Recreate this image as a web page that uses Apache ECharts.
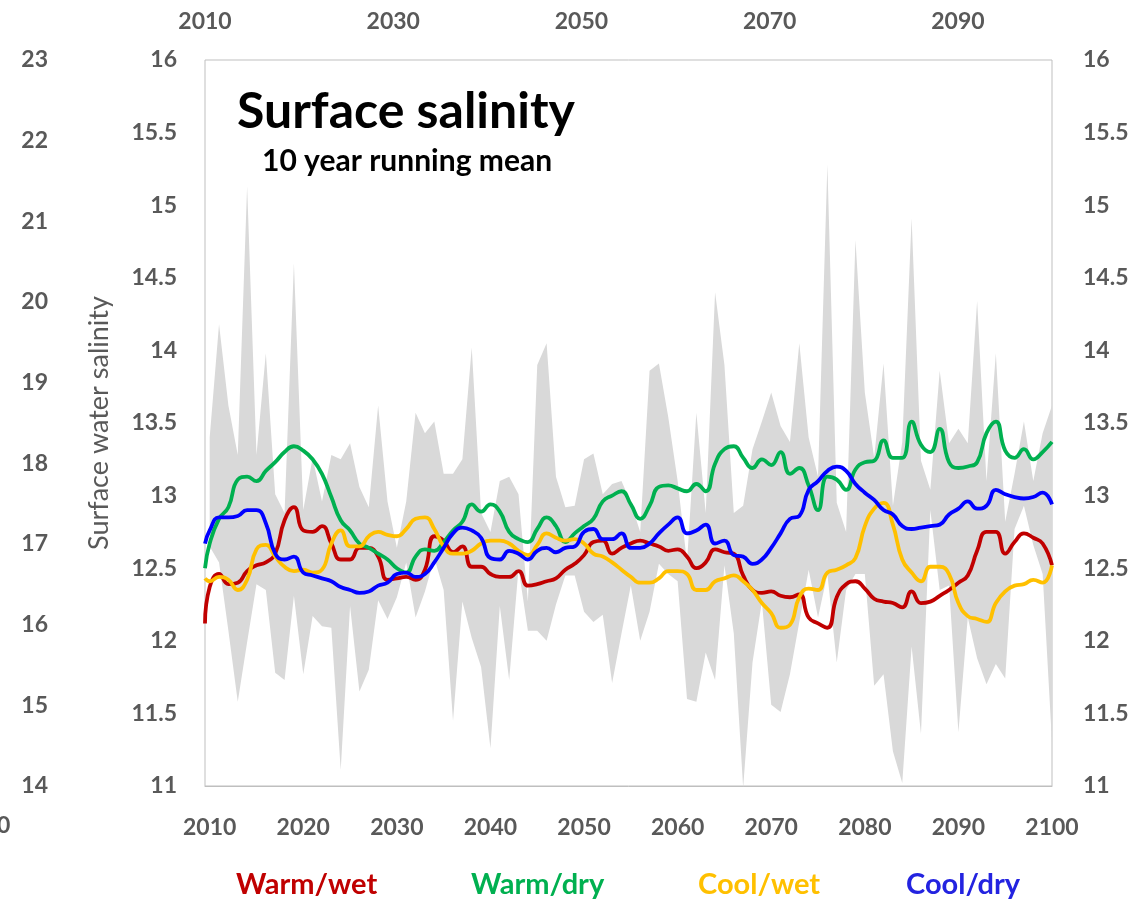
<!DOCTYPE html>
<html>
<head>
<meta charset="utf-8">
<script src="https://cdn.jsdelivr.net/npm/echarts@6/dist/echarts.min.js"></script>
<style>
html,body{margin:0;padding:0;background:#fff;}
#chart{width:1148px;height:902px;}
</style>
</head>
<body>
<div id="chart"></div>
<script>
// ---- data ----
const bandYears = [2010,2011,2012,2013,2014,2015,2016,2017,2018,2019,2020,2021,2022,2023,2024,2025,2026,2027,2028,2029,2030,2031,2032,2033,2034,2035,2036,2037,2038,2039,2040,2041,2042,2043,2044,2045,2046,2047,2048,2049,2050,2051,2052,2053,2054,2055,2056,2057,2058,2059,2060,2061,2062,2063,2064,2065,2066,2067,2068,2069,2070,2071,2072,2073,2074,2075,2076,2077,2078,2079,2080,2081,2082,2083,2084,2085,2086,2087,2088,2089,2090,2091,2092,2093,2094,2095,2096,2097,2098,2099,2100];
const bandMax = [13.40,14.18,13.62,13.28,15.13,13.28,13.98,13.01,12.88,14.60,12.90,13.26,12.96,13.28,13.25,13.36,13.06,12.92,13.62,12.96,12.64,12.96,13.57,13.43,13.51,13.15,13.15,13.25,14.02,12.88,12.75,13.10,13.13,13.01,12.27,13.90,14.05,13.13,12.92,12.93,13.25,13.29,13.01,13.08,13.10,12.95,12.75,13.86,13.91,13.54,13.10,12.54,13.57,12.88,14.40,13.90,12.88,12.93,13.32,13.51,13.71,13.48,13.37,14.05,13.40,13.13,15.28,12.95,12.75,14.76,13.71,13.26,13.91,12.93,13.37,14.91,13.24,13.04,13.86,13.36,13.46,13.36,14.34,13.10,13.98,12.82,13.15,13.51,13.10,13.43,13.62];
const bandMin = [12.65,12.54,12.07,11.58,11.99,12.39,12.35,11.78,11.73,12.31,11.77,12.17,12.10,12.09,11.11,12.24,11.65,11.80,12.28,12.15,12.30,12.54,12.16,12.34,12.57,12.35,11.45,12.27,12.02,11.82,11.26,12.24,11.73,12.50,12.07,12.07,12.00,12.25,12.45,12.45,12.20,12.13,12.18,11.71,12.05,12.38,12.00,12.20,12.53,12.46,12.41,11.60,11.58,11.92,11.73,12.52,12.05,10.99,11.85,12.27,11.56,11.51,11.77,12.13,12.49,12.16,12.46,11.85,12.35,12.46,12.46,11.69,11.77,11.24,11.02,11.96,11.36,12.90,12.35,12.38,11.37,12.16,11.88,11.70,11.84,11.74,12.77,12.93,12.66,12.46,11.30];

const lineYears = [2009.5,2010,2011,2012,2013,2014,2015,2016,2017,2018,2019,2020,2021,2022,2023,2024,2025,2026,2027,2028,2029,2030,2031,2032,2033,2034,2035,2036,2037,2038,2039,2040,2041,2042,2043,2044,2045,2046,2047,2048,2049,2050,2051,2052,2053,2054,2055,2056,2057,2058,2059,2060,2061,2062,2063,2064,2065,2066,2067,2068,2069,2070,2071,2072,2073,2074,2075,2076,2077,2078,2079,2080,2081,2082,2083,2084,2085,2086,2087,2088,2089,2090,2091,2092,2093,2094,2095,2096,2097,2098,2099,2100];
const warmWet = [12.12,12.37,12.46,12.39,12.40,12.48,12.52,12.54,12.60,12.83,12.92,12.76,12.75,12.79,12.67,12.56,12.56,12.64,12.64,12.58,12.42,12.43,12.44,12.42,12.49,12.72,12.69,12.61,12.65,12.51,12.51,12.46,12.44,12.44,12.48,12.38,12.39,12.41,12.43,12.49,12.53,12.59,12.68,12.69,12.60,12.64,12.67,12.69,12.67,12.65,12.62,12.63,12.58,12.50,12.54,12.63,12.61,12.60,12.45,12.35,12.33,12.34,12.31,12.30,12.32,12.16,12.12,12.09,12.30,12.39,12.41,12.36,12.29,12.27,12.26,12.23,12.34,12.26,12.27,12.31,12.35,12.40,12.45,12.62,12.75,12.75,12.60,12.68,12.74,12.71,12.67,12.52];
const warmDry = [12.50,12.67,12.84,12.92,13.11,13.13,13.10,13.17,13.23,13.30,13.34,13.31,13.25,13.15,12.99,12.83,12.76,12.67,12.64,12.60,12.56,12.50,12.47,12.58,12.63,12.62,12.68,12.76,12.82,12.94,12.89,12.94,12.89,12.75,12.70,12.68,12.77,12.85,12.79,12.68,12.74,12.79,12.84,12.96,13.00,13.03,12.94,12.84,12.93,13.06,13.07,13.05,13.03,13.08,13.03,13.22,13.32,13.34,13.26,13.19,13.25,13.21,13.30,13.15,13.19,13.07,12.90,13.13,13.11,13.04,13.18,13.23,13.24,13.38,13.26,13.26,13.51,13.35,13.30,13.46,13.23,13.19,13.20,13.23,13.43,13.51,13.31,13.26,13.32,13.25,13.30,13.37];
const coolWet = [12.43,12.41,12.44,12.42,12.35,12.42,12.63,12.66,12.58,12.51,12.48,12.49,12.47,12.49,12.67,12.76,12.65,12.65,12.72,12.75,12.73,12.72,12.77,12.84,12.85,12.77,12.65,12.60,12.60,12.62,12.67,12.69,12.69,12.67,12.62,12.59,12.66,12.74,12.71,12.69,12.70,12.67,12.60,12.58,12.54,12.49,12.44,12.40,12.40,12.43,12.48,12.48,12.46,12.35,12.35,12.41,12.43,12.45,12.41,12.35,12.26,12.19,12.09,12.11,12.30,12.36,12.35,12.47,12.49,12.52,12.57,12.79,12.91,12.95,12.80,12.56,12.47,12.41,12.51,12.51,12.46,12.26,12.17,12.15,12.13,12.26,12.34,12.38,12.39,12.42,12.40,12.52];
const coolDry = [12.67,12.76,12.85,12.85,12.86,12.90,12.90,12.81,12.60,12.56,12.58,12.47,12.45,12.43,12.41,12.37,12.35,12.33,12.34,12.38,12.40,12.46,12.47,12.44,12.46,12.54,12.64,12.74,12.78,12.76,12.71,12.57,12.56,12.62,12.60,12.56,12.62,12.64,12.61,12.64,12.65,12.75,12.77,12.70,12.70,12.74,12.64,12.64,12.67,12.74,12.80,12.85,12.74,12.76,12.80,12.67,12.69,12.59,12.58,12.53,12.56,12.64,12.74,12.84,12.86,13.04,13.10,13.17,13.20,13.17,13.08,13.02,12.97,12.90,12.87,12.79,12.77,12.78,12.79,12.80,12.87,12.91,12.96,12.91,12.93,13.04,13.01,12.99,12.98,12.99,13.02,12.94];

const bottomTicks = [2010,2020,2030,2040,2050,2060,2070,2080,2090,2100];
const topTicks = [2010,2030,2050,2070,2090];
const seriesNames = ['Warm/wet','Warm/dry','Cool/wet','Cool/dry'];
const seriesColors = ['#C00000','#00B050','#FFC000','#0000FF'];
const legendColors = ['#C00000','#00B050','#FFC000','#2323E0'];

// ---- build ----
const FONT = 'Lato';
const GRAY = '#595959';
const pair = (xs, ys) => xs.map((x, i) => [x, ys[i]]);
const lineSets = [warmWet, warmDry, coolWet, coolDry];

const chart = echarts.init(document.getElementById('chart'), null, {renderer: 'canvas'});

const labelStyle = {color: GRAY, fontFamily: FONT, fontWeight: 'bold', fontSize: 23, formatter: v => String(v)};

const series = [
  {
    name: 'range', type: 'custom', xAxisIndex: 0, yAxisIndex: 0, silent: true, z: 1,
    data: bandYears.map((y, i) => [y, bandMin[i], bandMax[i]]),
    encode: {x: 0, y: [1, 2]},
    renderItem: function (params, api) {
      if (params.dataIndex !== 0) return null;
      const pts = [];
      for (let i = 0; i < bandYears.length; i++) pts.push(api.coord([bandYears[i], bandMax[i]]));
      for (let i = bandYears.length - 1; i >= 0; i--) pts.push(api.coord([bandYears[i], bandMin[i]]));
      return {type: 'polygon', shape: {points: pts}, style: {fill: '#D9D9D9', stroke: null}};
    }
  }
];
lineSets.forEach((vals, k) => {
  series.push({
    name: seriesNames[k], type: 'line', xAxisIndex: 0, yAxisIndex: 0,
    data: pair(lineYears, vals), smooth: 0.5, symbol: 'none',
    lineStyle: {width: 3.8, color: seriesColors[k]}, z: 3 + k
  });
});

const legendX = [236, 471, 698, 906];
const legendTexts = seriesNames.map((name, k) => ({
  type: 'text', left: legendX[k], top: 870,
  style: Object.assign({text: name, fill: legendColors[k], font: 'bold 29px ' + FONT},
    k === 2 ? {shadowColor: 'rgba(0,0,0,0.35)', shadowBlur: 2, shadowOffsetX: 1.5, shadowOffsetY: 1.5} : {})
}));

const option = {
  backgroundColor: '#ffffff',
  animation: false,
  grid: {left: 205, right: 96, top: 60, bottom: 116, show: true, borderColor: '#BFBFBF', borderWidth: 1},
  xAxis: [
    {
      type: 'value', position: 'bottom', min: 2009.5, max: 2100,
      axisLine: {show: true, lineStyle: {color: '#BFBFBF', width: 1}},
      axisTick: {show: false}, splitLine: {show: false},
      axisLabel: Object.assign({margin: 30, customValues: bottomTicks, showMinLabel: true, showMaxLabel: true}, labelStyle)
    },
    {
      type: 'value', position: 'top', min: 2010, max: 2100,
      axisLine: {show: false}, axisTick: {show: false}, splitLine: {show: false},
      axisLabel: Object.assign({margin: 27, customValues: topTicks}, labelStyle)
    }
  ],
  yAxis: [
    {
      type: 'value', position: 'left', min: 11, max: 16, interval: 0.5,
      axisLine: {show: false}, axisTick: {show: false}, splitLine: {show: false},
      axisLabel: Object.assign({margin: 28}, labelStyle),
      name: 'Surface water salinity', nameLocation: 'middle', nameGap: 92, nameRotate: 90,
      nameTextStyle: {color: GRAY, fontFamily: FONT, fontSize: 27, fontWeight: 'normal'}
    },
    {
      type: 'value', position: 'right', min: 11, max: 16, interval: 0.5,
      axisLine: {show: false}, axisTick: {show: false}, splitLine: {show: false},
      axisLabel: Object.assign({margin: 31}, labelStyle)
    },
    {
      type: 'value', position: 'left', offset: 149, min: 14, max: 23, interval: 1,
      axisLine: {show: false}, axisTick: {show: false}, splitLine: {show: false},
      axisLabel: Object.assign({margin: 8}, labelStyle)
    }
  ],
  series: series,
  graphic: [
    {type: 'text', left: 237, top: 87, style: {text: 'Surface salinity', fill: '#000', font: 'bold 50px ' + FONT}},
    {type: 'text', left: 262, top: 146, style: {text: '10 year running mean', fill: '#000', font: 'bold 30px ' + FONT}},
    {type: 'text', left: -3, top: 814, style: {text: '0', fill: GRAY, font: 'bold 23px ' + FONT}}
  ].concat(legendTexts)
};
chart.setOption(option);
</script>
</body>
</html>
